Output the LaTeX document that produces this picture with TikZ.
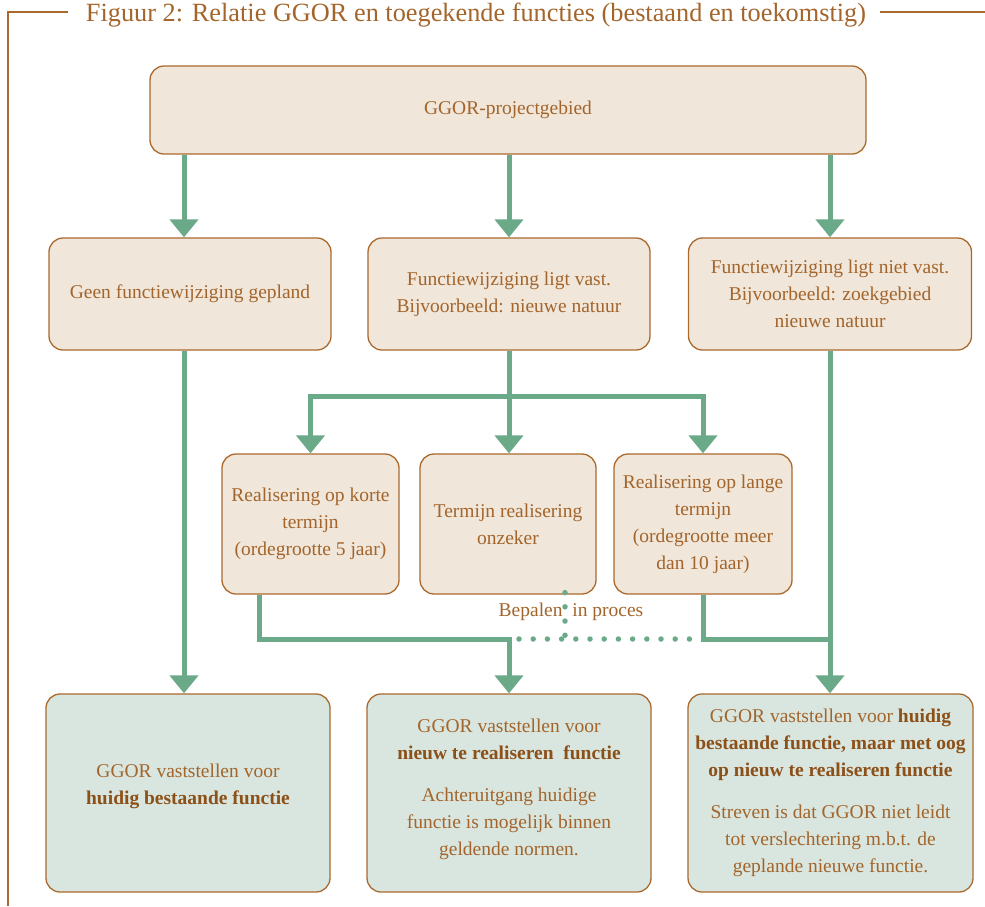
\documentclass[tikz,border=0pt]{standalone}
\usepackage{fontspec}
\setmainfont{Liberation Serif}
\usetikzlibrary{arrows.meta,calc}
\definecolor{txt}{RGB}{163,101,43}
\definecolor{bld}{RGB}{140,80,25}
\definecolor{brd}{RGB}{170,105,45}
\definecolor{beige}{RGB}{240,230,218}
\definecolor{mint}{RGB}{216,230,223}
\definecolor{grn}{RGB}{106,170,136}
\begin{document}
\begin{tikzpicture}[x=1pt,y=-1pt,
  box/.style={draw=brd,line width=1.3pt,rounded corners=14pt,fill=beige,text=txt,align=center,
    font=\fontsize{19.5}{27}\selectfont,inner sep=2pt},
  gbox/.style={box,fill=mint},
  conn/.style={draw=grn,line width=5pt,line join=miter},
  arr/.style={conn,-{Triangle[width=28pt,length=18pt]}},
  dotline/.style={draw=grn,line width=5.5pt,line cap=round,dash pattern=on 0pt off 14.2pt},
  frame/.style={draw=brd,line width=1.4pt}]
\useasboundingbox (0,0) rectangle (985,906);
% frame and title
\node[text=txt,font=\fontsize{26.3}{30}\selectfont,inner sep=0pt] (title) at (476,15) {Figuur 2: Relatie GGOR en toegekende functies (bestaand en toekomstig)};
\coordinate (fl) at (8,12);
\draw[frame] (fl |- 0,906) -- (fl) -- ([xshift=-18pt]title.west |- fl);
\draw[frame] ([xshift=14pt]title.east |- fl) -- (985,12);
% boxes
\node[box,minimum width=716pt,minimum height=88pt] (top) at (508,110) {GGOR-projectgebied};
\node[box,minimum width=282pt,minimum height=112pt] (A) at (190,294) {Geen functiewijziging gepland};
\node[box,minimum width=282pt,minimum height=112pt] (B) at (509,294) {Functiewijziging ligt vast.\\Bijvoorbeeld: nieuwe natuur};
\node[box,minimum width=283pt,minimum height=112pt] (C) at (830,294) {Functiewijziging ligt niet vast.\\Bijvoorbeeld: zoekgebied\\nieuwe natuur};
\node[box,minimum width=177pt,minimum height=140pt] (D) at (310.5,524) {Realisering op korte\\termijn\\(ordegrootte 5 jaar)};
\node[box,minimum width=176pt,minimum height=140pt] (E) at (508,524) {Termijn realisering\\onzeker};
\node[box,minimum width=178pt,minimum height=140pt] (F) at (703,524) {Realisering op lange\\termijn\\(ordegrootte meer\\dan 10 jaar)};
\node[gbox,minimum width=284pt,minimum height=198pt] (G) at (188,793) {GGOR vaststellen voor\\\textcolor{bld}{\textbf{huidig bestaande functie}}\\[-9pt]\mbox{}};
\node[gbox,minimum width=284pt,minimum height=198pt] (H) at (509,793) {GGOR vaststellen voor\\\textcolor{bld}{\textbf{nieuw te realiseren\ \ functie}}\\[15pt]Achteruitgang huidige\\functie is mogelijk binnen\\geldende normen.\\[-15pt]\mbox{}};
\node[gbox,minimum width=285pt,minimum height=198pt] (I) at (830.5,793) {GGOR vaststellen voor \textcolor{bld}{\textbf{huidig}}\\\textcolor{bld}{\textbf{bestaande functie, maar met oog}}\\\textcolor{bld}{\textbf{op nieuw te realiseren functie}}\\[15pt]Streven is dat GGOR niet leidt\\tot verslechtering m.b.t. de\\geplande nieuwe functie.};
% coordinates
\coordinate (a1) at ([xshift=-6pt]A.north);
\coordinate (split) at (509,396);
\coordinate (m) at (0,639);
\coordinate (d1) at ([xshift=-51.5pt]D.south);
\coordinate (e1) at ([xshift=57pt]E.south);
% connectors
\draw[arr] (top.south -| a1) -- (a1);
\draw[arr] (top.south -| B.north) -- (B.north);
\draw[arr] (top.south -| C.north) -- (C.north);
\draw[arr] (A.south -| a1) -- (G.north -| a1);
\draw[arr] (B.south) -- (E.north -| B.south);
\draw[arr] (F.north |- split) -- (D.north |- split) -- (D.north);
\draw[arr] (D.north |- split) -- (F.north |- split) -- (F.north);
\draw[arr] (C.south) -- (I.north -| C.south);
\draw[arr] (d1) -- (d1 |- m) -- (H.north |- m) -- (H.north);
\draw[conn] (F.south) -- (F.south |- m) -- (C.south |- m);
\draw[dotline] ([yshift=2pt]e1) -- ([yshift=-6pt]e1 |- m);
\draw[dotline] ([xshift=10pt]H.north |- m) -- ([xshift=-6pt]F.south |- m);
\node[text=txt,font=\fontsize{19.5}{22}\selectfont,inner sep=0pt] (lbl) at (571,612) {Bepalen\ \ in proces};
\end{tikzpicture}
\end{document}
